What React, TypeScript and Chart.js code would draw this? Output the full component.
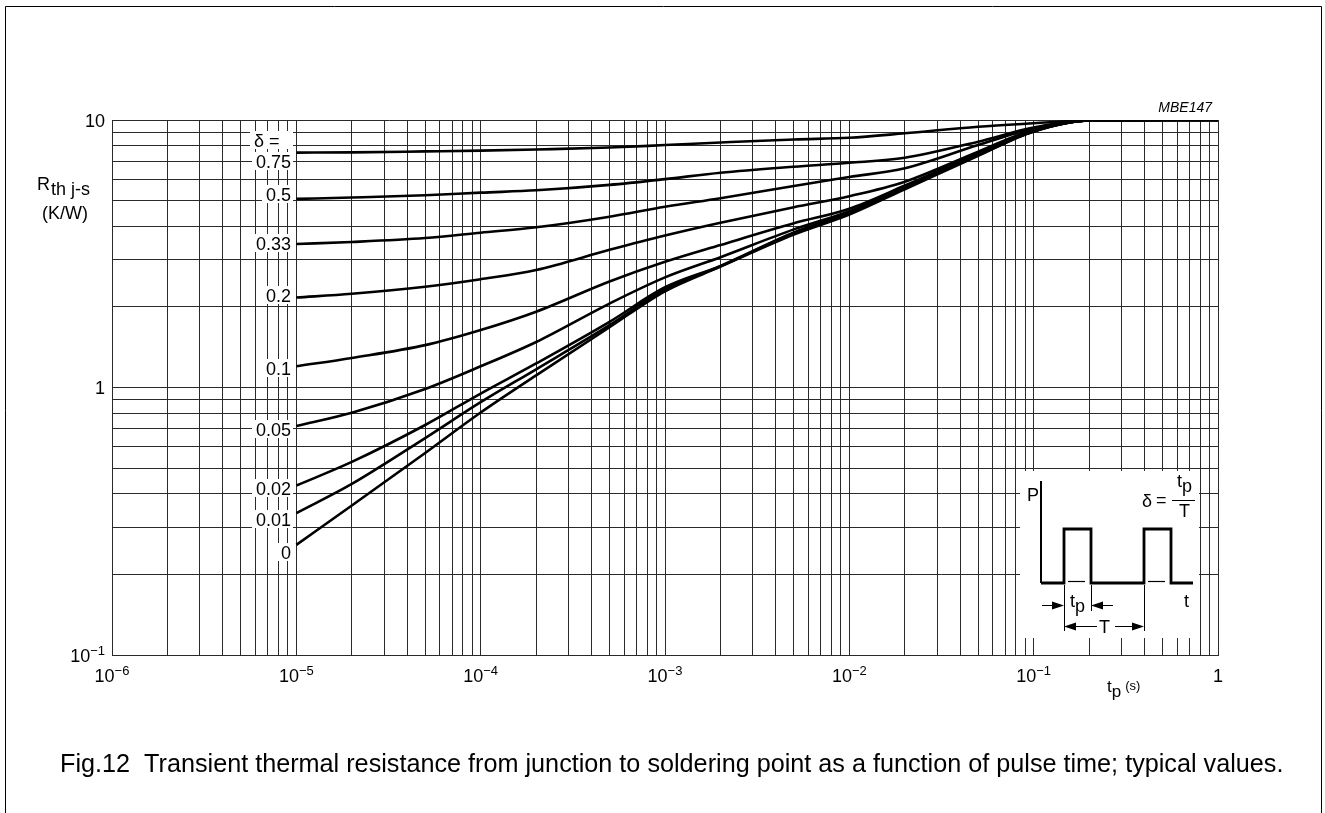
import React, { useEffect, useRef } from 'react';
import { Chart, registerables } from 'chart.js';

Chart.register(...registerables);

// ---- data ----
const pulseTimes = [1e-5, 2e-5, 5e-5, 1e-4, 2e-4, 5e-4, 1e-3, 2e-3, 5e-3, 1e-2, 2e-2, 5e-2, 1e-1, 2e-1, 5e-1, 1];

const deltaLabels = ['0.75', '0.5', '0.33', '0.2', '0.1', '0.05', '0.02', '0.01', '0'];

const rth075 = [7.55, 7.57, 7.63, 7.68, 7.76, 7.89, 8.06, 8.24, 8.46, 8.58, 8.92, 9.44, 9.72, 9.97, 10, 10];
const rth050 = [5.07, 5.13, 5.23, 5.35, 5.46, 5.72, 6.01, 6.35, 6.69, 6.92, 7.23, 8.3, 9.38, 9.96, 10, 10];
const rth033 = [3.44, 3.5, 3.62, 3.79, 3.97, 4.35, 4.74, 5.1, 5.67, 6.12, 6.6, 8.06, 9.29, 9.96, 10, 10];
const rth020 = [2.17, 2.24, 2.38, 2.54, 2.75, 3.27, 3.7, 4.13, 4.72, 5.19, 5.88, 7.61, 9.22, 9.96, 10, 10];
const rth010 = [1.2, 1.29, 1.44, 1.64, 1.92, 2.49, 2.95, 3.41, 4.11, 4.66, 5.69, 7.51, 9.14, 9.96, 10, 10];
const rth005 = [0.718, 0.805, 0.987, 1.2, 1.48, 2.06, 2.58, 3.07, 3.9, 4.56, 5.62, 7.46, 9.1, 9.96, 10, 10];
const rth002 = [0.43, 0.527, 0.724, 0.949, 1.23, 1.76, 2.37, 2.85, 3.8, 4.51, 5.58, 7.42, 9.07, 9.96, 10, 10];
const rth001 = [0.339, 0.436, 0.647, 0.881, 1.17, 1.71, 2.33, 2.84, 3.77, 4.47, 5.55, 7.39, 9.06, 9.96, 10, 10];
const rth000 = [0.258, 0.362, 0.569, 0.806, 1.11, 1.68, 2.29, 2.83, 3.73, 4.43, 5.51, 7.35, 9.06, 9.96, 10, 10];

const seriesValues = [rth075, rth050, rth033, rth020, rth010, rth005, rth002, rth001, rth000];

// tick labels
const xDecades = [1e-6, 1e-5, 1e-4, 1e-3, 1e-2, 1e-1, 1];
const xDecadeLabels = [['10', '−6'], ['10', '−5'], ['10', '−4'], ['10', '−3'], ['10', '−2'], ['10', '−1'], ['1', '']];
const yDecades = [0.1, 1, 10];
const yDecadeLabels = [['10', '−1'], ['1', ''], ['10', '']];
const minorFactors = [1, 2, 3, 4, 5, 6, 7, 8, 9];

const captionText = 'Fig.12  Transient thermal resistance from junction to soldering point as a function of pulse time; typical values.';
const figCode = 'MBE147';

function gridValues(decades: number[]) {
  const out: number[] = [];
  for (let i = 0; i < decades.length - 1; i++) {
    for (const m of minorFactors) out.push(Number((decades[i] * m).toPrecision(6)));
  }
  out.push(decades[decades.length - 1]);
  return out;
}

const xGrid = gridValues(xDecades);
const yGrid = gridValues(yDecades);

// ---- drawing helpers ----
const FONT = '"Liberation Sans", Arial, Helvetica, sans-serif';
const f = (size: number, style = '') => `${style} ${size}px ${FONT}`.trim();

function drawPow(ctx: CanvasRenderingContext2D, base: string, exp: string, x: number, baseline: number, align: 'center' | 'right') {
  ctx.font = f(18);
  const wb = ctx.measureText(base).width;
  ctx.font = f(13);
  const we = exp ? ctx.measureText(exp).width : 0;
  const total = wb + we;
  const x0 = align === 'center' ? x - total / 2 : x - total;
  ctx.textAlign = 'left';
  ctx.textBaseline = 'alphabetic';
  ctx.font = f(18);
  ctx.fillText(base, x0, baseline);
  if (exp) {
    ctx.font = f(13);
    ctx.fillText(exp, x0 + wb, baseline - 7);
  }
}

function arrowHead(ctx: CanvasRenderingContext2D, tipX: number, y: number, dir: 1 | -1) {
  ctx.beginPath();
  ctx.moveTo(tipX, y);
  ctx.lineTo(tipX - dir * 12, y - 4);
  ctx.lineTo(tipX - dir * 12, y + 4);
  ctx.closePath();
  ctx.fill();
}

function line(ctx: CanvasRenderingContext2D, pts: number[][], w: number) {
  ctx.lineWidth = w;
  ctx.beginPath();
  ctx.moveTo(pts[0][0], pts[0][1]);
  for (let i = 1; i < pts.length; i++) ctx.lineTo(pts[i][0], pts[i][1]);
  ctx.stroke();
}

const overlay = {
  id: 'overlay',
  beforeDraw(chart: any) {
    const ctx: CanvasRenderingContext2D = chart.ctx;
    ctx.save();
    ctx.fillStyle = '#fff';
    ctx.fillRect(0, 0, chart.width, chart.height);
    ctx.strokeStyle = '#000';
    ctx.lineWidth = 1;
    ctx.beginPath();
    ctx.moveTo(5.5, 820);
    ctx.lineTo(5.5, 6.5);
    ctx.lineTo(1321.5, 6.5);
    ctx.lineTo(1321.5, 820);
    ctx.stroke();
    ctx.restore();
  },
  afterDraw(chart: any) {
    const ctx: CanvasRenderingContext2D = chart.ctx;
    const xs = chart.scales.x;
    const ys = chart.scales.y;
    ctx.save();
    ctx.fillStyle = '#000';
    ctx.strokeStyle = '#000';

    // tick labels
    xDecades.forEach((v, i) => {
      drawPow(ctx, xDecadeLabels[i][0], xDecadeLabels[i][1], xs.getPixelForValue(v), 682, 'center');
    });
    yDecades.forEach((v, i) => {
      drawPow(ctx, yDecadeLabels[i][0], yDecadeLabels[i][1], 105, ys.getPixelForValue(v) + 6.5, 'right');
    });

    // y axis title
    ctx.textAlign = 'left';
    ctx.font = f(18);
    ctx.fillText('R', 37, 190);
    const wR = ctx.measureText('R').width;
    ctx.fillText('th j-s', 37 + wR + 1, 195);
    ctx.textAlign = 'center';
    ctx.fillText('(K/W)', 65, 219);

    // x axis title
    ctx.textAlign = 'left';
    ctx.font = f(17);
    ctx.fillText('t', 1107, 692);
    const wt = ctx.measureText('t').width;
    ctx.fillText('p', 1107 + wt, 697);
    const wp = ctx.measureText('p').width;
    ctx.font = f(13);
    ctx.fillText('(s)', 1107 + wt + wp + 4, 690);

    // figure code
    ctx.font = f(14, 'italic');
    ctx.textAlign = 'right';
    ctx.fillText(figCode, 1212, 112);

    // delta labels with white boxes
    const labelBaselines = [168, 201, 250, 302, 375, 436, 495, 526, 559];
    const rightEdge = 291;
    const boxRight = 293;
    ctx.font = f(18);
    {
      const txt = 'δ =';
      const left = 254;
      ctx.fillStyle = '#fff';
      ctx.fillRect(left - 4, 147 - 16, boxRight - (left - 4), 18);
      ctx.fillStyle = '#000';
      ctx.textAlign = 'left';
      ctx.fillText(txt, left, 147);
    }
    deltaLabels.forEach((lab, i) => {
      const b = labelBaselines[i];
      const w = ctx.measureText(lab).width;
      const left = rightEdge - w;
      ctx.fillStyle = '#fff';
      ctx.fillRect(left - 4, b - 16, boxRight - (left - 4), 18);
      ctx.fillStyle = '#000';
      ctx.textAlign = 'right';
      ctx.fillText(lab, rightEdge, b);
    });

    // inset
    ctx.fillStyle = '#fff';
    ctx.fillRect(1020, 471, 179, 167);
    ctx.fillStyle = '#000';
    ctx.lineCap = 'butt';
    ctx.lineJoin = 'miter';
    line(ctx, [[1041, 481], [1041, 583]], 2);
    line(ctx, [[1041, 583], [1064, 583], [1064, 529], [1091, 529], [1091, 583], [1144, 583], [1144, 529], [1171, 529], [1171, 583], [1193, 583]], 2.8);
    line(ctx, [[1068, 581.5], [1085, 581.5]], 1.2);
    line(ctx, [[1148, 581.5], [1165, 581.5]], 1.2);
    line(ctx, [[1064.5, 585], [1064.5, 631]], 1);
    line(ctx, [[1091.5, 585], [1091.5, 611]], 1);
    line(ctx, [[1144.5, 585], [1144.5, 631]], 1);
    line(ctx, [[1042, 605.5], [1060, 605.5]], 1);
    arrowHead(ctx, 1064, 605.5, 1);
    line(ctx, [[1113, 605.5], [1095, 605.5]], 1);
    arrowHead(ctx, 1091, 605.5, -1);
    line(ctx, [[1068, 626.5], [1097, 626.5]], 1);
    arrowHead(ctx, 1064, 626.5, -1);
    line(ctx, [[1115, 626.5], [1140, 626.5]], 1);
    arrowHead(ctx, 1144, 626.5, 1);
    ctx.font = f(18);
    ctx.textAlign = 'left';
    ctx.fillText('P', 1027, 501);
    ctx.fillText('t', 1070, 607);
    ctx.fillText('p', 1070 + ctx.measureText('t').width, 612);
    ctx.fillText('T', 1099, 633);
    ctx.fillText('t', 1184, 607);
    ctx.fillText('δ', 1142, 507);
    ctx.fillText('=', 1156, 506);
    line(ctx, [[1172, 500.5], [1195, 500.5]], 1);
    ctx.fillText('t', 1177, 487);
    ctx.fillText('p', 1177 + ctx.measureText('t').width, 492);
    ctx.fillText('T', 1179, 517);

    // caption, fitted to the reference width
    ctx.font = f(100);
    const cw = ctx.measureText(captionText).width;
    const size = (100 * 1224) / cw;
    ctx.font = f(size);
    ctx.textAlign = 'left';
    ctx.fillText(captionText, 60, 772);

    ctx.restore();
  },
};

export default function App() {
  const ref = useRef<HTMLCanvasElement | null>(null);

  useEffect(() => {
    if (!ref.current) return;
    const datasets = seriesValues.map((vals, i) => ({
      label: 'δ = ' + deltaLabels[i],
      data: pulseTimes.map((t, j) => ({ x: t, y: vals[j] })),
      borderColor: '#000',
      borderWidth: 2.6,
      pointRadius: 0,
      fill: false,
      cubicInterpolationMode: 'monotone' as const,
    }));
    const gridOpts = { color: '#2a2a2a', lineWidth: 1, drawTicks: false };
    const chart = new Chart(ref.current, {
      type: 'line',
      data: { datasets },
      options: {
        responsive: false,
        animation: false,
        devicePixelRatio: 1,
        layout: { padding: { left: 112, top: 120, right: 107, bottom: 158 } },
        plugins: { legend: { display: false }, tooltip: { enabled: false }, title: { display: false } },
        scales: {
          x: {
            type: 'logarithmic',
            min: 1e-6,
            max: 1,
            afterBuildTicks: (s: any) => {
              s.ticks = xGrid.map((v) => ({ value: v }));
            },
            ticks: { display: false },
            grid: gridOpts,
            border: { display: true, color: '#2a2a2a', width: 1 },
          },
          y: {
            type: 'logarithmic',
            min: 0.1,
            max: 10,
            afterBuildTicks: (s: any) => {
              s.ticks = yGrid.map((v) => ({ value: v }));
            },
            ticks: { display: false },
            grid: gridOpts,
            border: { display: true, color: '#2a2a2a', width: 1 },
          },
        },
      } as any,
      plugins: [overlay],
    });
    return () => chart.destroy();
  }, []);

  return (
    <div style={{ position: 'fixed', left: 0, top: 0, width: 1325, height: 813, background: '#fff' }}>
      <canvas ref={ref} width={1325} height={813} style={{ display: 'block', width: 1325, height: 813 }} />
    </div>
  );
}
